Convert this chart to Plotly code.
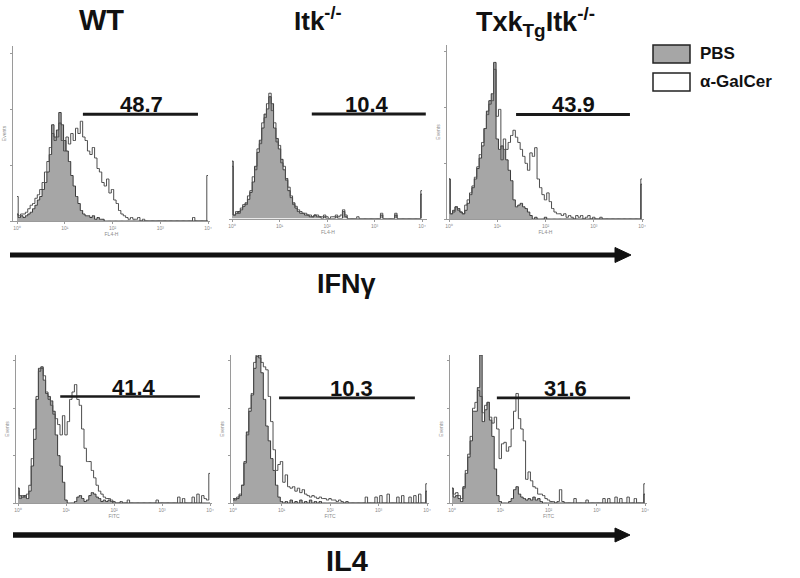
import plotly.graph_objects as go

W, H = 800, 578

# ---------------- data ----------------
# histogram channel centres, log10 fluorescence (10^0 .. 10^4)
channels_log = [i * 0.05 for i in range(81)]

panel_titles = ["WT", "Itk<sup>-/-</sup>", "Txk<sub>Tg</sub>Itk<sup>-/-</sup>"]
cytokines = ["IFNγ", "IL4"]
series_names = ["PBS", "α-GalCer"]
gate_percent = ["48.7", "10.4", "43.9", "41.4", "10.3", "31.6"]
gate_lo_log = [1.38, 1.68, 1.39, 0.88, 0.95, 0.93]
gate_hi_log = [3.79, 4.08, 3.75, 3.79, 3.75, 3.69]
gate_level = [61, 60, 60, 72, 71, 71]
gate_label_log = [2.60, 2.84, 2.57, 2.42, 2.45, 2.36]

# event counts, % of axis maximum
pbs_wt_ifng = [4, 2, 3, 2, 3, 4, 5, 7, 9, 12,
               14, 18, 22, 28, 38, 55, 48, 52, 62, 55,
               46, 40, 34, 26, 20, 14, 10, 6, 4, 3,
               3, 2, 3, 1, 2, 1, 1, 0, 0, 0,
               0, 0, 0, 0, 0, 0, 0, 0, 0, 0,
               0, 0, 0, 0, 0, 0, 0, 0, 0, 0,
               0, 0, 0, 0, 0, 0, 0, 0, 0, 0,
               0, 0, 0, 0, 0, 0, 0, 0, 0, 0,
               0]
agc_wt_ifng = [14, 3, 4, 4, 5, 7, 9, 10, 13, 15,
               18, 22, 28, 34, 42, 50, 46, 48, 56, 46,
               40, 48, 44, 50, 46, 53, 50, 57, 48, 46,
               40, 38, 42, 36, 30, 28, 22, 20, 24, 16,
               18, 12, 10, 6, 4, 3, 2, 1, 2, 1,
               1, 2, 0, 1, 0, 0, 0, 0, 0, 0,
               0, 0, 0, 0, 0, 0, 0, 0, 0, 0,
               0, 0, 0, 0, 2, 0, 0, 0, 0, 0,
               26]
pbs_itk_ifng = [33, 2, 3, 4, 5, 7, 9, 11, 15, 21,
                30, 38, 45, 52, 60, 63, 70, 66, 52, 46,
                40, 34, 28, 23, 16, 12, 9, 6, 4, 3,
                3, 2, 2, 1, 1, 2, 1, 1, 0, 1,
                0, 0, 0, 0, 1, 0, 0, 4, 1, 0,
                0, 0, 0, 0, 0, 0, 0, 0, 0, 0,
                0, 0, 0, 2, 0, 0, 0, 0, 0, 2,
                0, 0, 0, 0, 0, 0, 0, 0, 0, 0,
                14]
agc_itk_ifng = [30, 2, 4, 3, 6, 8, 8, 13, 16, 24,
                28, 40, 43, 55, 58, 66, 72, 62, 55, 44,
                42, 32, 30, 22, 18, 13, 8, 7, 5, 4,
                3, 3, 2, 2, 1, 2, 2, 1, 1, 2,
                1, 0, 1, 1, 2, 1, 2, 5, 2, 0,
                0, 0, 0, 1, 0, 0, 0, 0, 0, 0,
                0, 0, 0, 3, 0, 0, 0, 0, 0, 3,
                0, 0, 0, 0, 0, 0, 0, 0, 0, 0,
                16]
pbs_txk_ifng = [23, 3, 5, 7, 6, 4, 3, 5, 9, 14,
                18, 23, 29, 35, 42, 52, 62, 68, 72, 90,
                46, 40, 42, 40, 34, 28, 22, 11, 7, 8,
                9, 7, 6, 4, 2, 0, 1, 0, 0, 0,
                1, 0, 0, 0, 0, 0, 0, 0, 0, 0,
                0, 0, 0, 0, 0, 0, 0, 0, 0, 0,
                0, 0, 0, 0, 0, 0, 0, 0, 0, 0,
                0, 0, 0, 0, 0, 0, 0, 0, 0, 0,
                20]
agc_txk_ifng = [23, 3, 4, 7, 5, 4, 3, 8, 11, 15,
                19, 24, 30, 37, 44, 52, 60, 66, 68, 86,
                59, 63, 34, 46, 40, 44, 48, 51, 47, 44,
                40, 36, 32, 28, 38, 36, 41, 23, 18, 14,
                11, 15, 10, 6, 4, 3, 3, 2, 3, 1,
                2, 1, 0, 2, 1, 2, 0, 1, 2, 0,
                1, 0, 0, 1, 0, 0, 0, 0, 0, 0,
                0, 0, 0, 0, 0, 0, 0, 0, 0, 0,
                23]
pbs_wt_il4 = [10, 5, 4, 5, 3, 8, 25, 43, 70, 91,
              92, 83, 74, 72, 69, 62, 46, 32, 25, 14,
              2, 0, 0, 0, 1, 4, 5, 3, 1, 2,
              5, 7, 6, 4, 3, 1, 2, 1, 2, 1,
              0, 0, 0, 0, 0, 0, 0, 0, 0, 0,
              0, 0, 0, 0, 0, 0, 0, 0, 0, 0,
              0, 0, 0, 0, 0, 0, 0, 0, 0, 0,
              0, 0, 0, 0, 0, 0, 0, 0, 0, 0,
              0]
agc_wt_il4 = [10, 3, 5, 4, 6, 12, 30, 50, 72, 89,
              91, 86, 75, 70, 66, 60, 57, 53, 46, 59,
              46, 55, 70, 75, 80, 70, 66, 50, 37, 28,
              28, 22, 17, 12, 8, 6, 4, 3, 3, 2,
              1, 0, 0, 1, 0, 0, 2, 0, 0, 0,
              0, 0, 0, 0, 0, 0, 0, 0, 2, 0,
              0, 0, 0, 0, 0, 0, 0, 4, 0, 3,
              0, 0, 0, 4, 0, 6, 0, 5, 3, 2,
              20]
pbs_itk_il4 = [2, 3, 3, 5, 12, 27, 48, 62, 73, 91,
               99, 100, 88, 70, 52, 42, 30, 22, 12, 4,
               1, 0, 1, 0, 2, 0, 1, 0, 2, 0,
               1, 0, 2, 0, 1, 0, 1, 0, 0, 0,
               0, 0, 0, 0, 0, 0, 0, 0, 0, 0,
               0, 0, 0, 0, 0, 0, 0, 0, 0, 0,
               0, 0, 0, 0, 0, 0, 0, 0, 0, 0,
               0, 0, 0, 0, 0, 0, 0, 0, 0, 0,
               8]
agc_itk_il4 = [3, 2, 4, 6, 12, 28, 46, 64, 74, 95,
               100, 98, 95, 92, 90, 72, 55, 36, 22, 26,
               28, 14, 19, 11, 10, 11, 8, 10, 7, 9,
               6, 5, 4, 5, 4, 3, 4, 3, 3, 2,
               3, 2, 2, 1, 2, 1, 0, 1, 0, 0,
               0, 0, 0, 0, 0, 4, 0, 0, 0, 4,
               0, 5, 0, 0, 6, 0, 0, 0, 4, 0,
               5, 0, 0, 4, 0, 5, 0, 6, 0, 0,
               13]
pbs_txk_il4 = [10, 4, 5, 3, 1, 11, 20, 31, 42, 62,
               62, 78, 100, 55, 63, 68, 56, 45, 23, 5,
               1, 0, 0, 0, 1, 3, 9, 11, 6, 4,
               3, 2, 3, 2, 4, 2, 3, 1, 0, 0,
               0, 0, 0, 0, 0, 0, 0, 0, 0, 0,
               0, 0, 0, 0, 0, 0, 0, 0, 0, 0,
               0, 0, 0, 0, 0, 0, 0, 0, 0, 0,
               0, 0, 0, 0, 0, 0, 0, 0, 0, 0,
               6]
agc_txk_il4 = [10, 6, 7, 5, 3, 10, 22, 33, 45, 64,
               68, 76, 72, 61, 66, 68, 58, 54, 58, 50,
               30, 40, 41, 35, 38, 50, 62, 74, 57, 50,
               42, 16, 21, 15, 11, 10, 6, 6, 5, 3,
               2, 1, 1, 0, 1, 9, 1, 0, 0, 0,
               0, 3, 0, 0, 0, 0, 2, 0, 0, 0,
               0, 0, 0, 3, 0, 3, 0, 0, 4, 0,
               3, 0, 0, 4, 0, 0, 3, 0, 0, 0,
               13]

pbs_series = [pbs_wt_ifng, pbs_itk_ifng, pbs_txk_ifng, pbs_wt_il4, pbs_itk_il4, pbs_txk_il4]
agc_series = [agc_wt_ifng, agc_itk_ifng, agc_txk_ifng, agc_wt_il4, agc_itk_il4, agc_txk_il4]

# ---------------- layout geometry (pixels) ----------------
# (pixel of 10^0, pixel of 10^4, left, right, baseline, top)
panel_px = [
    (17, 208, 13, 210, 221, 46),
    (232, 422, 229, 427, 218.5, 44.5),
    (449, 642, 447, 644, 219, 45),
    (18, 210, 16, 212, 503, 355),
    (233, 427, 231, 429, 503, 355),
    (452, 645, 450, 647, 503, 355),
]

PBS_FILL = "#a6a6a6"
AXIS_GREY = "#9a9a9a"
FONT = "Liberation Sans, Arial, sans-serif"

fig = go.Figure()
x_vals = [10 ** c for c in channels_log]
layout = {}
annotations = []
shapes = []

for k in range(6):
    p0, p4, left, right, base, top = panel_px[k]
    ppd = (p4 - p0) / 4.0
    xr = [(left - p0) / ppd, (right - p0) / ppd]
    sfx = "" if k == 0 else str(k + 1)
    xa, ya = "x" + sfx, "y" + sfx
    layout["xaxis" + sfx] = dict(
        domain=[left / W, right / W], anchor=ya, type="log", range=xr,
        showline=True, linecolor=AXIS_GREY, linewidth=1, mirror=False,
        ticks="outside", ticklen=2, tickcolor=AXIS_GREY,
        tickvals=[1, 10, 100, 1000, 10000],
        ticktext=["10⁰", "10¹", "10²", "10³", "10⁴"],
        tickfont=dict(size=5, color="#8a8a8a", family=FONT),
        title=dict(text="FL4-H" if k < 3 else "FITC", font=dict(size=5, color="#8a8a8a", family=FONT), standoff=0),
        showgrid=False, zeroline=False, fixedrange=True, automargin=False,
    )
    layout["yaxis" + sfx] = dict(
        domain=[1 - base / H, 1 - top / H], anchor=xa, range=[0, 100],
        showline=(k != 1), linecolor=AXIS_GREY, linewidth=1,
        ticks="outside" if k != 1 else "", ticklen=2, tickcolor=AXIS_GREY,
        tickvals=[0, 32, 64, 96], showticklabels=False,
        title=dict(text="Events" if k != 1 else "", font=dict(size=5, color="#8a8a8a", family=FONT), standoff=3),
        showgrid=False, zeroline=False, fixedrange=True, automargin=False,
    )
    fig.add_trace(go.Scatter(
        x=x_vals, y=pbs_series[k], xaxis=xa, yaxis=ya, mode="lines",
        line=dict(color="#3a3a3a", width=1, shape="hvh"),
        fill="tozeroy", fillcolor=PBS_FILL, name=series_names[0], showlegend=False,
        hoverinfo="skip"))
    fig.add_trace(go.Scatter(
        x=x_vals, y=agc_series[k], xaxis=xa, yaxis=ya, mode="lines",
        line=dict(color="#4d4d4d", width=1, shape="hvh"),
        name=series_names[1], showlegend=False, hoverinfo="skip"))
    fig.add_trace(go.Scatter(
        x=[10 ** gate_lo_log[k], 10 ** gate_hi_log[k]], y=[gate_level[k], gate_level[k]],
        xaxis=xa, yaxis=ya, mode="lines", line=dict(color="#1a1a1a", width=3 if k < 3 else 2.6),
        showlegend=False, hoverinfo="skip", cliponaxis=False))
    annotations.append(dict(
        x=gate_label_log[k], y=gate_level[k], xref=xa, yref=ya,
        text="<b>%s</b>" % gate_percent[k], showarrow=False,
        yanchor="middle", xanchor="center", yshift=10 if k < 3 else 9,
        font=dict(size=22, color="#111", family=FONT)))


def px(x, y):
    return x / W, 1 - y / H


# column titles
for (cx, cy, size), t in zip([(101.7, 20, 29), (317.5, 20, 26), (535, 22, 27)], panel_titles):
    X, Y = px(cx, cy)
    annotations.append(dict(x=X, y=Y, xref="paper", yref="paper", text="<b>%s</b>" % t,
                            showarrow=False, xanchor="center", yanchor="middle",
                            font=dict(size=size, color="#111", family=FONT)))

# cytokine labels
for (cx, cy, size), t in zip([(346, 284, 27), (347, 561, 29)], cytokines):
    X, Y = px(cx, cy)
    annotations.append(dict(x=X, y=Y, xref="paper", yref="paper", text="<b>%s</b>" % t,
                            showarrow=False, xanchor="center", yanchor="middle",
                            font=dict(size=size, color="#111", family=FONT)))

# arrows
for (x0, x1, tip, yy, hh, lw) in [(10, 618, 631, 255, 7.5, 5), (13, 618, 630, 535, 7, 5.5)]:
    a0, b0 = px(x0, yy)
    a1, _ = px(x1, yy)
    shapes.append(dict(type="line", xref="paper", yref="paper", x0=a0, y0=b0, x1=a1, y1=b0,
                       line=dict(color="#111", width=lw)))
    shapes.append(dict(type="path", xref="paper", yref="paper",
                       path="M %f %f L %f %f L %f %f Z" % (
                           px(x1 - 3, yy - hh)[0], px(x1 - 3, yy - hh)[1],
                           px(tip, yy)[0], px(tip, yy)[1],
                           px(x1 - 3, yy + hh)[0], px(x1 - 3, yy + hh)[1]),
                       fillcolor="#111", line=dict(color="#111", width=1)))

# legend
for (y0, y1, fillc, label) in [(45, 63, PBS_FILL, series_names[0]), (73, 91, "#ffffff", series_names[1])]:
    a0, b0 = px(653, y0)
    a1, b1 = px(690, y1)
    shapes.append(dict(type="rect", xref="paper", yref="paper", x0=a0, y0=b1, x1=a1, y1=b0,
                       fillcolor=fillc, line=dict(color="#222", width=1.5)))
    X, Y = px(698, (y0 + y1) / 2)
    annotations.append(dict(x=X, y=Y, xref="paper", yref="paper", text="<b>%s</b>" % label,
                            showarrow=False, xanchor="left", yanchor="middle",
                            font=dict(size=17, color="#111", family=FONT)))

fig.update_layout(
    width=W, height=H, margin=dict(l=0, r=0, t=0, b=0),
    paper_bgcolor="white", plot_bgcolor="white", showlegend=False,
    annotations=annotations, shapes=shapes, **layout)

fig.write_html("out.html", config={"displayModeBar": False},
               post_script="document.body.style.margin='0';document.body.style.padding='0';")
